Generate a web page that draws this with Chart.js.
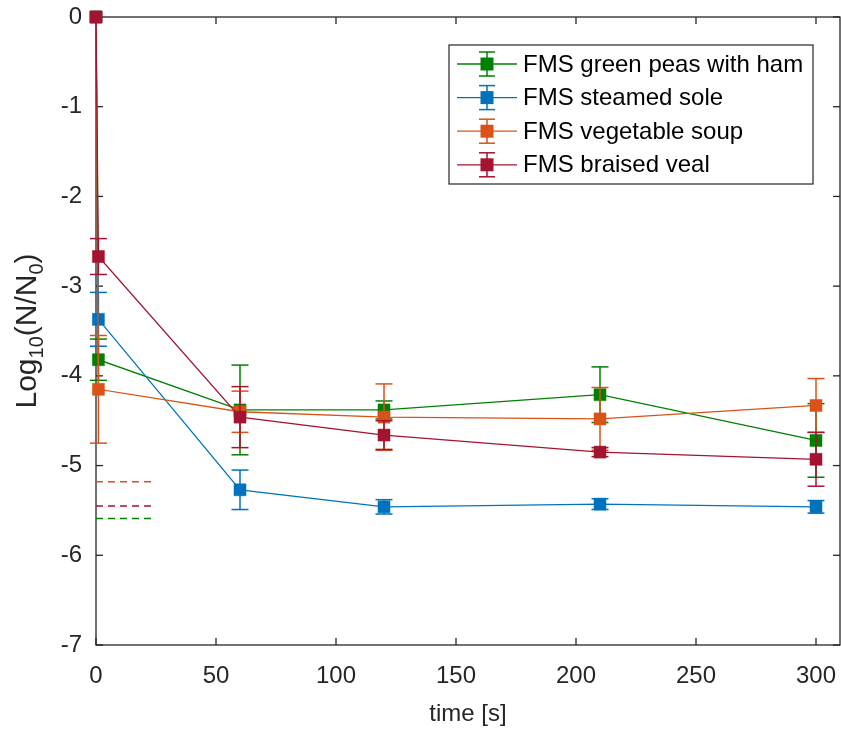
<!DOCTYPE html>
<html><head><meta charset="utf-8">
<script src="https://cdn.jsdelivr.net/npm/chart.js@4"></script>
<style>html,body{margin:0;padding:0;background:#fff}#wrap{width:841px;height:729px;position:relative}</style>
</head><body><div id="wrap"><canvas id="c"></canvas></div>
<script>
const seriesNames = ['FMS green peas with ham','FMS steamed sole','FMS vegetable soup','FMS braised veal'];
const seriesColors = ['#008000','#0072BD','#D95319','#A2142F'];
const timeValues = [0, 1, 60, 120, 210, 300];
const greenPeasMean = [0, -3.82, -4.38, -4.38, -4.21, -4.72];
const greenPeasErr  = [0, 0.23, 0.50, 0.10, 0.31, 0.41];
const soleMean = [0, -3.37, -5.27, -5.46, -5.43, -5.46];
const soleErr  = [0, 0.30, 0.22, 0.08, 0.06, 0.07];
const soupMean = [0, -4.15, -4.40, -4.46, -4.48, -4.33];
const soupErr  = [0, 0.60, 0.23, 0.37, 0.35, 0.30];
const vealMean = [0, -2.67, -4.46, -4.66, -4.85, -4.93];
const vealErr  = [0, 0.20, 0.34, 0.16, 0.05, 0.30];
const limitTimes = [0, 23];
const limitValues = [-5.59, null, -5.18, -5.45];
const xTicks = [0, 50, 100, 150, 200, 250, 300];
const yTicks = [0, -1, -2, -3, -4, -5, -6, -7];
const xLabel = 'time [s]';
const yLabelParts = [['Log',false],['10',true],['(N/N',false],['0',true],[')',false]];

const means = [greenPeasMean, soleMean, soupMean, vealMean];
const errs = [greenPeasErr, soleErr, soupErr, vealErr];
const FONT = "'Liberation Sans', Arial, sans-serif";
const AX = '#262626';

const datasets = [];
means.forEach((m, i) => {
  datasets.push({
    label: seriesNames[i],
    data: timeValues.map((t, j) => ({x: t, y: m[j]})),
    errors: errs[i],
    borderColor: seriesColors[i],
    backgroundColor: seriesColors[i],
    borderWidth: 1.3,
    pointStyle: 'rect',
    pointRadius: 8.5,
    pointBorderWidth: 0.5,
    pointBackgroundColor: seriesColors[i],
    pointBorderColor: seriesColors[i],
    tension: 0,
    clip: false,
    order: 4 - i
  });
});
limitValues.forEach((v, i) => {
  if (v === null) return;
  datasets.push({
    label: seriesNames[i] + ' limit',
    data: limitTimes.map(t => ({x: t, y: v})),
    borderColor: seriesColors[i],
    borderWidth: 1.5,
    borderDash: [7, 5],
    pointRadius: 0,
    clip: false,
    order: 10
  });
});

function seg(ctx, x1, y1, x2, y2) { ctx.beginPath(); ctx.moveTo(x1, y1); ctx.lineTo(x2, y2); ctx.stroke(); }

const errorBarPlugin = {
  id: 'errorBars',
  beforeDatasetDraw(chart, args) {
    const ds = chart.data.datasets[args.index];
    if (!ds.errors) return;
    const ctx = chart.ctx, xs = chart.scales.x, ys = chart.scales.y;
    ctx.save();
    ctx.strokeStyle = ds.borderColor;
    ctx.lineWidth = 1.5;
    ds.data.forEach((p, j) => {
      const e = ds.errors[j];
      if (!e) return;
      const px = xs.getPixelForValue(p.x);
      const yt = ys.getPixelForValue(p.y + e), yb = ys.getPixelForValue(p.y - e);
      seg(ctx, px, yt, px, yb);
      seg(ctx, px - 8.5, yt, px + 8.5, yt);
      seg(ctx, px - 8.5, yb, px + 8.5, yb);
    });
    ctx.restore();
  }
};

const framePlugin = {
  id: 'frame',
  beforeDatasetsDraw(chart) {
    const ctx = chart.ctx, a = chart.chartArea, xs = chart.scales.x, ys = chart.scales.y;
    ctx.save();
    ctx.strokeStyle = AX; ctx.lineWidth = 1.3;
    ctx.strokeRect(a.left, a.top, a.right - a.left, a.bottom - a.top);
    xTicks.forEach(v => { const p = xs.getPixelForValue(v); seg(ctx, p, a.bottom, p, a.bottom - 7); seg(ctx, p, a.top, p, a.top + 7); });
    yTicks.forEach(v => { const p = ys.getPixelForValue(v); seg(ctx, a.left, p, a.left + 7, p); seg(ctx, a.right, p, a.right - 7, p); });
    ctx.restore();
  }
};

const overlayPlugin = {
  id: 'overlay',
  afterDraw(chart) {
    const ctx = chart.ctx, a = chart.chartArea;
    ctx.save();
    const F = 30, S = 20;
    let total = 0;
    yLabelParts.forEach(([t, sub]) => { ctx.font = (sub ? S : F) + 'px ' + FONT; total += ctx.measureText(t).width; });
    const cx = 36, cy = (a.top + a.bottom) / 2;
    ctx.translate(cx, cy); ctx.rotate(-Math.PI / 2);
    ctx.fillStyle = AX; ctx.textBaseline = 'alphabetic'; ctx.textAlign = 'left';
    let x = -total / 2;
    yLabelParts.forEach(([t, sub]) => {
      ctx.font = (sub ? S : F) + 'px ' + FONT;
      ctx.fillText(t, x, sub ? 7 : 0);
      x += ctx.measureText(t).width;
    });
    ctx.restore();
    ctx.save();
    const bx = 449, by = 45, bw = 364, bh = 139;
    ctx.fillStyle = '#fff'; ctx.fillRect(bx, by, bw, bh);
    ctx.strokeStyle = AX; ctx.lineWidth = 1.2; ctx.strokeRect(bx, by, bw, bh);
    seriesNames.forEach((name, i) => {
      const y = 64 + i * 33.6, mx = 487, c = seriesColors[i];
      ctx.strokeStyle = c; ctx.lineWidth = 1.3; seg(ctx, 457, y, 517, y);
      ctx.lineWidth = 1.5; seg(ctx, mx, y - 12, mx, y + 12);
      seg(ctx, mx - 8, y - 12, mx + 8, y - 12); seg(ctx, mx - 8, y + 12, mx + 8, y + 12);
      ctx.fillStyle = c; ctx.fillRect(mx - 6.5, y - 6.5, 13, 13);
      ctx.fillStyle = '#000'; ctx.font = '24px ' + FONT; ctx.textBaseline = 'middle'; ctx.textAlign = 'left';
      ctx.fillText(name, 523, y + 1);
    });
    ctx.restore();
  }
};

new Chart(document.getElementById('c'), {
  type: 'line',
  data: { datasets },
  plugins: [errorBarPlugin, framePlugin, overlayPlugin],
  options: {
    responsive: true, maintainAspectRatio: false, animation: false,
    layout: { autoPadding: false, padding: { top: 17, right: 1, left: 0, bottom: 0 } },
    plugins: { legend: { display: false }, tooltip: { enabled: false } },
    scales: {
      x: {
        type: 'linear', min: 0, max: 310,
        afterBuildTicks: s => { s.ticks = xTicks.map(v => ({ value: v })); },
        afterFit: s => { s.height = 84; s.paddingLeft = 0; s.paddingRight = 0; },
        grid: { display: false, drawTicks: false, tickLength: 0 }, border: { display: false },
        ticks: { font: { family: FONT, size: 24 }, color: AX, padding: 17, maxRotation: 0 },
        title: { display: true, text: xLabel, font: { family: FONT, size: 24 }, color: AX, padding: { top: 0, bottom: 0 } }
      },
      y: {
        type: 'linear', min: -7, max: 0,
        afterBuildTicks: s => { s.ticks = yTicks.map(v => ({ value: v })); },
        afterFit: s => { s.width = 96; s.paddingTop = 0; s.paddingBottom = 0; },
        grid: { display: false, drawTicks: false, tickLength: 0 }, border: { display: false },
        ticks: { font: { family: FONT, size: 24 }, color: AX, padding: 14 }
      }
    }
  }
});
</script></body></html>
